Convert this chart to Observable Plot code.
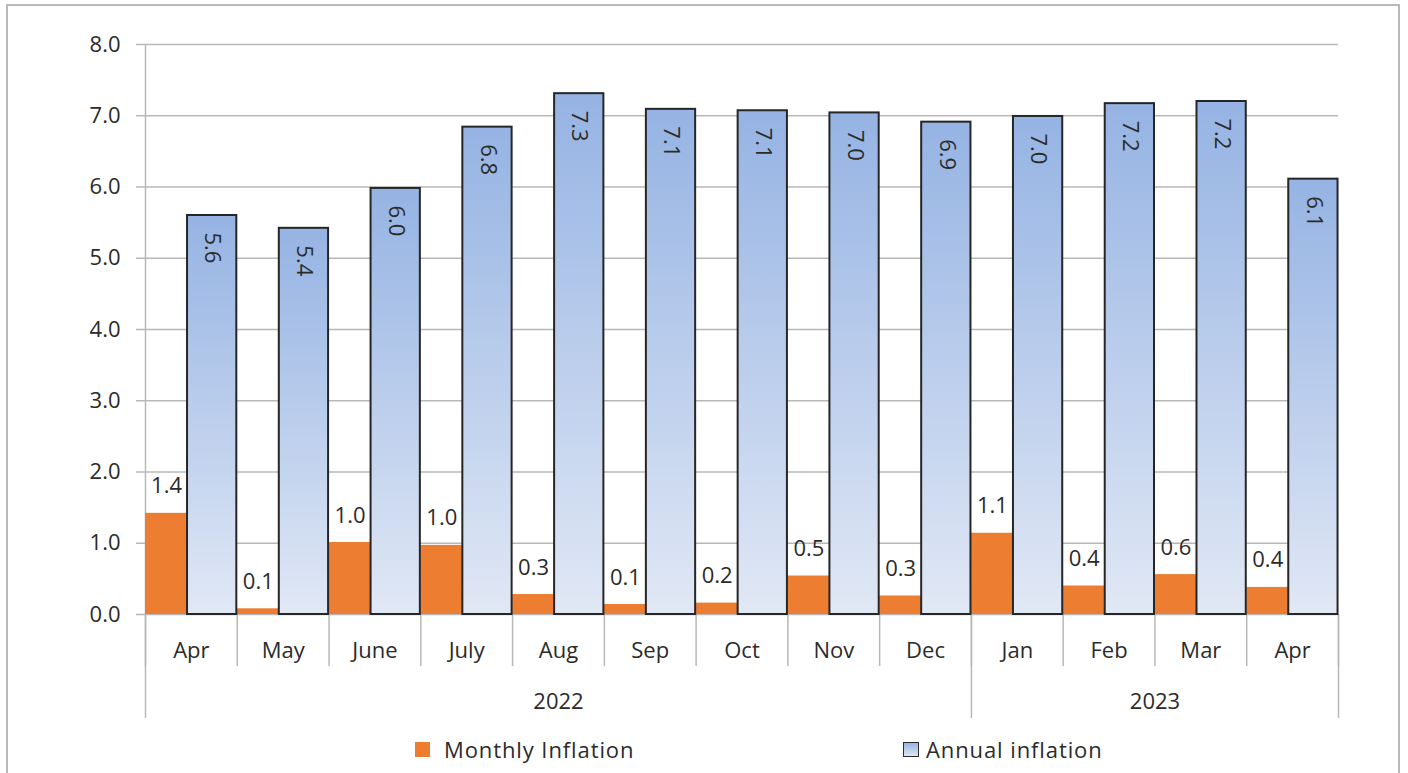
<!DOCTYPE html>
<html>
<head>
<meta charset="utf-8">
<script src="https://cdn.jsdelivr.net/npm/d3@7"></script>
<script src="https://cdn.jsdelivr.net/npm/@observablehq/plot@0.6"></script>
<style>
  html, body { margin: 0; padding: 0; background: #fff; }
  body { width: 1408px; height: 773px; overflow: hidden; position: relative; font-family: "Open Sans", sans-serif; color: #2b2b2b; }
  #frame {
    position: absolute; left: 6px; top: 4px; width: 1390px; height: 800px;
    border: 2px solid #b9b9b9; border-bottom: none;
  }
  #chart svg { display: block; }
  .legend-item { position: absolute; top: 734px; height: 30px; display: flex; align-items: center; font-size: 22px; letter-spacing: 0.9px; color: #2b2b2b; }
  .swatch { display: inline-block; width: 15px; height: 15px; box-sizing: border-box; }
  .swatch.monthly { background: #ED7D31; margin-right: 14px; }
  .swatch.annual { background: linear-gradient(#97b4e3, #e0e7f4); border: 1.5px solid #2b2b2b; margin-right: 7px; width: 16px; }
</style>
</head>
<body>
<div id="frame"><div id="chart"></div></div>
<div class="legend-item" style="left:415px"><span class="swatch monthly"></span>Monthly Inflation</div>
<div class="legend-item" style="left:903px"><span class="swatch annual"></span>Annual inflation</div>
<script>
// Inflation, April 2022 – April 2023 (%)
const months = ["Apr", "May", "June", "July", "Aug", "Sep", "Oct", "Nov", "Dec", "Jan", "Feb", "Mar", "Apr"];
const monthlyInflation = [1.42, 0.08, 1.01, 0.97, 0.28, 0.14, 0.16, 0.54, 0.26, 1.14, 0.40, 0.56, 0.38];
const annualInflation = [5.60, 5.42, 5.98, 6.84, 7.31, 7.09, 7.07, 7.04, 6.91, 6.99, 7.17, 7.20, 6.11];
const years = ["2022", "2023"];
const yearStart = [0, 9];   // index of the first month of each year
const yearEnd = [9, 13];    // index after the last month of each year
const yTicks = [0, 1, 2, 3, 4, 5, 6, 7, 8];

const fmt = d3.format(".1f");
const split = 0.458; // share of each month slot taken by the monthly bar

const rows = months.map((m, i) => ({
  i, month: m, monthly: monthlyInflation[i], annual: annualInflation[i]
}));
const yearRows = years.map((y, k) => ({year: y, start: yearStart[k], end: yearEnd[k]}));
const monthBounds = d3.range(months.length + 1);
const yearBounds = [0, ...yearEnd];

const grid = "#b8b8b8";

// gradient used by the annual bars
function gradientDefs() {
  const ns = "http://www.w3.org/2000/svg";
  const defs = document.createElementNS(ns, "defs");
  const lg = document.createElementNS(ns, "linearGradient");
  lg.setAttribute("id", "annualFill");
  lg.setAttribute("x1", "0"); lg.setAttribute("y1", "0");
  lg.setAttribute("x2", "0"); lg.setAttribute("y2", "1");
  [["0%", "#95b3e3"], ["100%", "#e1e8f5"]].forEach(([o, c]) => {
    const s = document.createElementNS(ns, "stop");
    s.setAttribute("offset", o); s.setAttribute("stop-color", c);
    lg.appendChild(s);
  });
  defs.appendChild(lg);
  return defs;
}

const chart = Plot.plot({
  width: 1390,
  height: 726,
  marginLeft: 137,
  marginRight: 60,
  marginTop: 38,
  marginBottom: 118,
  style: {fontFamily: "'Open Sans', sans-serif", fontSize: "22px", color: "#2b2b2b", background: "transparent"},
  x: {type: "linear", domain: [0, months.length], axis: null},
  y: {domain: [0, 8], axis: null},
  marks: [
    gradientDefs,
    // horizontal gridlines with short ticks left of the axis
    Plot.ruleY(yTicks, {y: d => d, stroke: grid, strokeWidth: 1.5, insetLeft: -9}),
    // value axis labels
    Plot.axisY(yTicks, {tickFormat: fmt, tickSize: 0, tickPadding: 25, fontSize: 22, label: null}),
    // vertical axis line
    Plot.ruleX([0], {x: d => d, y1: 8, y2: 0, stroke: grid, strokeWidth: 1.5}),
    // month separators and year separators below the baseline
    Plot.ruleX(monthBounds, {x: d => d, y1: 0, y2: 0, insetBottom: -52, stroke: grid, strokeWidth: 1.5}),
    Plot.ruleX(yearBounds, {x: d => d, y1: 0, y2: 0, insetBottom: -104, stroke: grid, strokeWidth: 1.5}),
    // monthly inflation bars
    Plot.rectY(rows, {x1: d => d.i, x2: d => d.i + split, y1: 0, y2: "monthly", fill: "#ED7D31"}),
    // annual inflation bars
    Plot.rectY(rows, {
      x1: d => d.i + split, x2: d => d.i + 0.995, y1: 0, y2: "annual",
      fill: "url(#annualFill)", stroke: "#262626", strokeWidth: 2,
      style: "filter: drop-shadow(1px 1px 1.5px rgba(0,0,0,0.25))"
    }),
    // value labels
    Plot.text(rows, {x: d => d.i + split / 2, y: "monthly", text: d => fmt(d.monthly), dy: -27, fontSize: 22, fill: "#2b2b2b"}),
    Plot.text(rows, {x: d => d.i + (split + 1) / 2, y: "annual", text: d => fmt(d.annual), rotate: 90, textAnchor: "start", dy: 17, fontSize: 22, fill: "#2b2b2b"}),
    // category labels
    Plot.text(rows, {x: d => d.i + 0.5, y: 0, text: "month", dy: 36, fontSize: 22, fill: "#2b2b2b"}),
    Plot.text(yearRows, {x: d => (d.start + d.end) / 2, y: 0, text: "year", dy: 87, fontSize: 22, fill: "#2b2b2b"})
  ]
});

document.getElementById("chart").appendChild(chart);
</script>
</body>
</html>
